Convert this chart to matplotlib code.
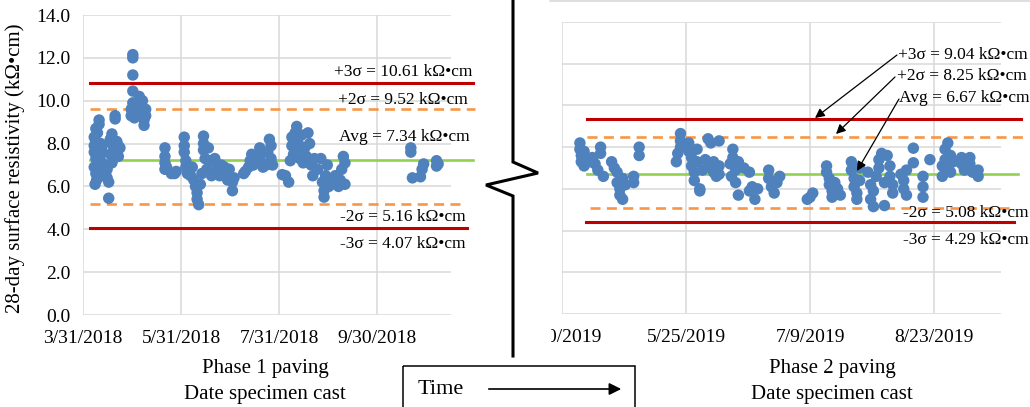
import numpy as np
import pandas as pd
import matplotlib
matplotlib.use('Agg')
import matplotlib.pyplot as plt
from matplotlib.patches import Rectangle

plt.rcParams['font.family'] = ['Liberation Serif', 'DejaVu Serif']

W, H = 1030, 407

# Phase 1 paving: days after 3/31/2018 and 28-day resistivity (kOhm.cm)
p1_days = [7, 7, 7, 7, 7.5, 8, 8, 8, 8, 8.5, 9, 9, 9, 10, 10, 10, 10, 11, 11, 12, 12, 12,
           14, 14, 15, 15, 16, 16, 17, 17, 18, 18, 18, 19, 19, 20, 20, 21, 21, 22, 22, 23,
           31, 31, 31, 31, 31, 30, 30, 32, 33, 35, 35, 36, 37, 37, 38, 38, 39, 39,
           51, 51, 51, 51, 52, 55, 57, 58,
           63, 63, 63, 64, 64, 65, 66, 67, 68, 69, 70, 71, 71, 72, 73, 74, 75, 75, 75, 76, 77, 78, 79, 80,
           82, 83, 85, 86, 88, 89, 90, 91, 93, 93, 94,
           100, 101, 103, 104, 105, 106, 108, 110, 110, 111, 112, 114, 115, 116, 117, 117, 118,
           124, 126, 128, 129, 130, 130, 131, 132, 133, 133, 134, 135, 136, 137, 138, 139, 140, 141,
           142, 143, 144, 146, 148, 149, 150, 150, 151, 152, 153, 155, 157, 159, 160, 161, 162, 163, 163,
           204, 204, 205, 210, 211, 212, 220, 220, 221]
p1_vals = [8.3, 7.9, 7.6, 6.9, 6.1, 8.7, 8.1, 7.3, 6.6, 6.3, 8.5, 7.7, 7.0, 9.1, 8.9, 7.5, 6.8, 8.0, 7.2, 7.9, 6.5, 7.6,
           7.0, 6.6, 6.4, 6.8, 5.45, 6.2, 8.2, 7.5, 8.45, 8.0, 7.1, 7.7, 7.3, 9.3, 9.15, 8.1, 7.6, 7.9, 7.4, 7.8,
           12.15, 12.0, 11.2, 10.45, 9.9, 9.6, 9.3, 9.2, 9.7, 10.2, 9.9, 9.6, 9.4, 10.0, 9.1, 8.85, 9.6, 9.3,
           7.8, 7.4, 7.1, 6.8, 6.9, 6.6, 6.6, 6.7,
           8.3, 7.9, 7.6, 7.2, 6.9, 6.6, 6.8, 6.5, 6.9, 6.3, 6.0, 5.7, 5.4, 5.15, 6.1, 6.6, 8.35, 8.0, 7.7, 7.3, 6.8, 7.8, 7.2, 6.5,
           7.3, 6.8, 6.5, 7.0, 6.9, 6.6, 6.3, 6.8, 6.2, 5.8, 6.4,
           6.6, 6.7, 6.9, 7.2, 7.5, 7.0, 7.3, 7.8, 7.4, 7.1, 6.9, 7.0, 7.6, 8.2, 7.9, 7.3, 7.0,
           6.55, 6.5, 6.2, 7.2, 7.9, 8.3, 7.5, 8.5, 8.8, 7.7, 8.0, 7.3, 8.4, 7.1, 7.8, 7.4, 8.5, 8.0,
           7.0, 6.5, 7.3, 6.8, 7.3, 6.2, 5.8, 5.5, 6.5, 7.0, 6.0, 6.3, 6.5, 6.0, 6.3, 6.8, 7.4, 7.1, 6.1,
           7.8, 7.6, 6.4, 6.45, 6.8, 7.05, 7.2, 6.95, 7.05]

# Phase 2 paving: days after 4/10/2019
p2_days = [6.5, 6.5, 7, 7, 8, 8, 9, 10, 11, 12, 13, 14, 14, 15, 18, 19, 20, 20, 21, 21, 22, 22, 23, 26, 26, 28, 28,
           41.5, 42, 43, 43, 43, 46, 46, 47, 47, 48, 48, 49, 49, 50, 50, 51, 52, 53, 54, 54, 55, 55, 56, 57, 57, 57,
           61, 61.5, 62, 62, 63, 63, 64, 64, 66, 68, 68, 69, 70, 71, 75, 75, 76, 77, 78, 79,
           89, 90, 91, 96, 96, 97, 97, 98, 98, 99, 100, 101,
           105, 105, 106, 106, 107, 107, 108, 108,
           111, 112, 112, 113, 113, 114, 115, 115, 116, 117, 117, 118, 119, 119, 120, 120,
           123, 124, 124, 125, 125, 127.5, 127.5, 131, 131, 131, 133.5,
           138, 138, 139, 139, 140, 140, 141, 141, 142,
           145, 145, 146, 148, 148, 149, 151, 151]
p2_vals = [8.2, 7.9, 7.6, 7.3, 7.1, 7.8, 7.5, 7.3, 7.5, 7.2, 6.9, 8.0, 7.7, 6.6, 7.3, 7.0, 6.8, 6.3, 6.0, 5.7, 5.5, 6.5, 6.2, 6.6, 6.3, 8.0, 7.6,
           7.3, 7.7, 8.65, 8.3, 8.0, 8.2, 7.8, 7.5, 7.1, 6.8, 6.4, 7.9, 7.3, 6.0, 5.9, 6.9, 7.4, 8.4, 8.2, 7.0, 7.3, 6.8, 6.6, 8.3, 7.1, 6.7,
           7.2, 6.6, 7.9, 7.5, 6.9, 6.3, 5.7, 7.3, 7.0, 5.9, 6.8, 6.1, 5.5, 6.0, 6.9, 6.5, 6.1, 5.8, 6.3, 6.6,
           5.5, 5.6, 5.8, 7.1, 6.8, 6.5, 6.2, 5.9, 5.6, 6.3, 6.0, 5.7,
           7.3, 6.9, 6.5, 6.1, 5.8, 5.5, 7.0, 6.4,
           6.8, 5.5, 6.2, 5.15, 5.9, 6.6, 7.0, 7.4, 7.7, 5.2, 6.3, 7.6, 7.1, 6.6, 6.2, 5.8,
           6.7, 6.4, 6.0, 5.7, 6.9, 7.95, 7.25, 6.6, 6.1, 5.6, 7.4,
           7.1, 6.6, 7.9, 7.4, 8.2, 7.0, 7.6, 6.8, 7.3,
           7.5, 7.2, 6.9, 7.5, 7.2, 6.8, 6.9, 6.6]

p1_start = pd.Timestamp('2018-03-31')
p2_start = pd.Timestamp('2019-04-10')
p1_ticks = ['2018-03-31', '2018-05-31', '2018-07-31', '2018-09-30']
p1_ticklabels = ['3/31/2018', '5/31/2018', '7/31/2018', '9/30/2018']
p2_ticks = ['2019-04-10', '2019-05-25', '2019-07-09', '2019-08-23']
p2_ticklabels = ['4/10/2019', '5/25/2019', '7/9/2019', '8/23/2019']

# control limit lines as drawn (level, start/end day)
p1_levels = [10.83, 9.61, 7.25, 5.18, 4.08]
p1_spans = [(4.4, 243), (4.4, 244), (4.4, 243), (4.4, 236), (4.4, 239)]
p1_labels = ['+3σ = 10.61 kΩ•cm', '+2σ = 9.52 kΩ•cm', 'Avg = 7.34 kΩ•cm',
             '-2σ = 5.16 kΩ•cm', '-3σ = 4.07 kΩ•cm']
p2_levels = [9.35, 8.49, 6.71, 5.08, 4.41]
p2_spans = [(9, 166.5), (9, 168.7), (9, 165.5), (10, 164.5), (8.7, 164)]
p2_labels = ['+3σ = 9.04 kΩ•cm', '+2σ = 8.25 kΩ•cm', 'Avg = 6.67 kΩ•cm',
             '-2σ = 5.08 kΩ•cm', '-3σ = 4.29 kΩ•cm']
kinds = ['3s', '2s', 'avg', '2s', '3s']

line_style = {
    '3s': dict(color='#c00000', lw=2.2, ls='-'),
    '2s': dict(color='#f79646', lw=1.9, ls=(0, (3.8, 2.4))),
    'avg': dict(color='#92d050', lw=1.9, ls='-'),
}
blue = '#4f81bd'
grid_c = '#d9d9d9'


def to_dates(start, days):
    return start + pd.to_timedelta(np.asarray(days, dtype=float), unit='D')


def setup(ax, start, ndays, ticks, ticklabels, ylabels):
    ax.set_xlim(start, start + pd.Timedelta(days=ndays))
    ax.set_ylim(0, 14)
    ax.set_xticks(pd.to_datetime(ticks))
    ax.set_xticklabels(ticklabels)
    ax.set_yticks(np.arange(0, 14.1, 2))
    if ylabels:
        ax.set_yticklabels(['%.1f' % v for v in np.arange(0, 14.1, 2)])
    else:
        ax.set_yticklabels([])
    ax.tick_params(length=0, labelsize=14)
    ax.tick_params(axis='x', pad=11)
    ax.tick_params(axis='y', pad=9)
    ax.grid(True, color=grid_c, lw=1.1)
    ax.set_axisbelow(True)
    for s in ax.spines.values():
        s.set_visible(False)


fig = plt.figure(figsize=(W / 100, H / 100), dpi=100)

ax1 = fig.add_axes([83 / W, 1 - 315 / H, 368 / W, 300 / H])
ax2 = fig.add_axes([562 / W, 1 - 314 / H, 439 / W, 292 / H])

setup(ax1, p1_start, 229, p1_ticks, p1_ticklabels, True)
setup(ax2, p2_start, 159.3, p2_ticks, p2_ticklabels, False)

for ax, start, levels, spans in [(ax1, p1_start, p1_levels, p1_spans),
                                 (ax2, p2_start, p2_levels, p2_spans)]:
    for lev, sp, k in zip(levels, spans, kinds):
        ax.plot(to_dates(start, sp), [lev, lev], clip_on=False, zorder=2, **line_style[k])

ax1.scatter(to_dates(p1_start, p1_days), p1_vals, s=68, color=blue, edgecolors='none', zorder=3)
ax2.scatter(to_dates(p2_start, p2_days), p2_vals, s=68, color=blue, edgecolors='none', zorder=3)

# overlay in pixel coordinates for the decorations
ov = fig.add_axes([0, 0, 1, 1], zorder=10)
ov.set_xlim(0, W)
ov.set_ylim(H, 0)
ov.axis('off')

# mask the clipped first tick label of phase 2
ov.add_patch(Rectangle((516, 322), 34, 30, color='white', zorder=1))
# top border of phase 2 chart area
ov.plot([550, W], [0.8, 0.8], color=grid_c, lw=1.2)

# break line
ov.plot([513, 513, 538, 486, 513, 513], [0, 162, 173, 185, 196, 356],
        color='black', lw=2.2, solid_joinstyle='miter')

# Time box
ov.add_patch(Rectangle((403, 366), 232, 50, fill=False, ec='black', lw=1.1))
ov.text(418, 389, 'Time', fontsize=16, va='center', ha='left')
ov.annotate('', xy=(624, 389), xytext=(486, 389),
            arrowprops=dict(arrowstyle='-|>', color='black', lw=1.2, mutation_scale=18))

# left labels
p1_lab_pos = [(472, 72), (468, 100), (470, 137), (466, 217), (466, 244)]
for (x, y), t in zip(p1_lab_pos, p1_labels):
    ov.text(x, y, t, fontsize=12.5, ha='right', va='center')

# right labels
p2_lab_pos = [(898, 55), (897, 76), (899, 98), (903, 213), (903, 240)]
for (x, y), t in zip(p2_lab_pos, p2_labels):
    ov.text(x, y, t, fontsize=12.5, ha='left', va='center')

# arrows pointing to right panel lines
for tail, head in [((897, 55), (815, 118)), ((895, 77), (836, 134)), ((899, 99), (857, 171))]:
    ov.annotate('', xy=head, xytext=tail,
                arrowprops=dict(arrowstyle='-|>', color='black', lw=0.9, mutation_scale=14,
                                shrinkA=0, shrinkB=0))

# axis titles
ov.text(265, 368, 'Phase 1 paving', fontsize=15, ha='center', va='center')
ov.text(265, 395, 'Date specimen cast', fontsize=15, ha='center', va='center')
ov.text(832, 368, 'Phase 2 paving', fontsize=15, ha='center', va='center')
ov.text(832, 395, 'Date specimen cast', fontsize=15, ha='center', va='center')
ov.text(15, 168, '28-day surface resistivity (kΩ•cm)', fontsize=15, rotation=90,
        ha='center', va='center')

fig.savefig('out.png', dpi=100)
